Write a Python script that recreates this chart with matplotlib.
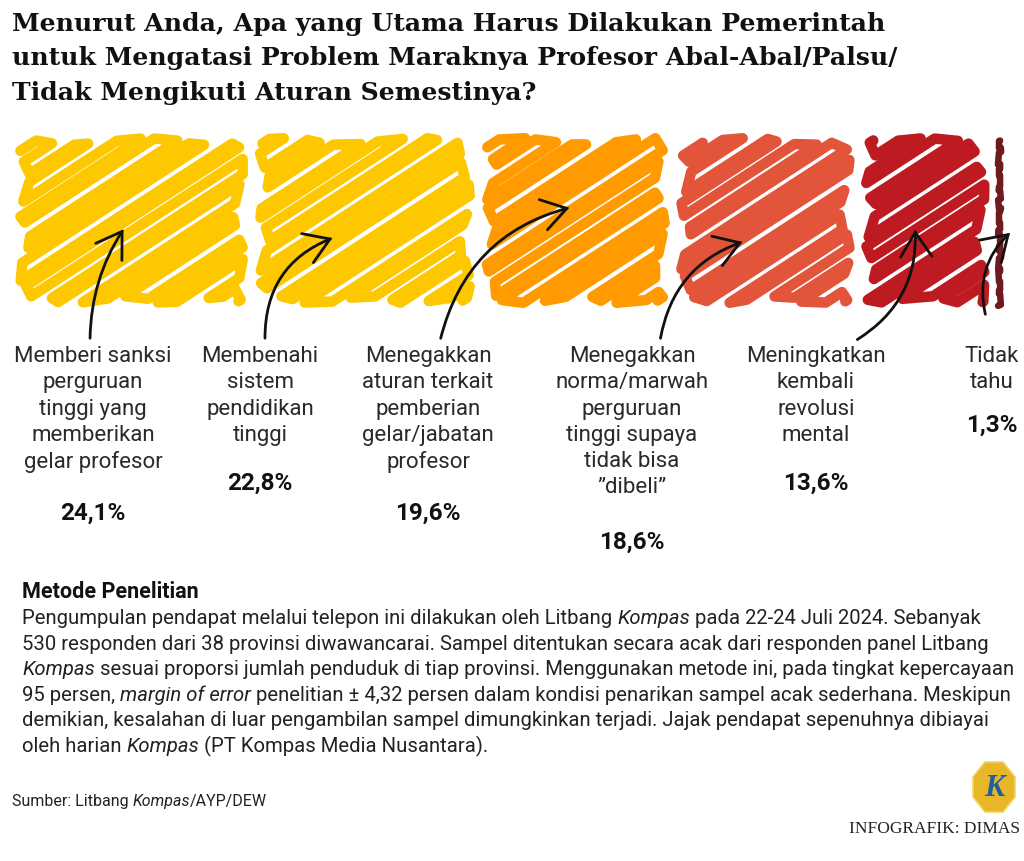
import numpy as np
import matplotlib
matplotlib.use("Agg")
import matplotlib.pyplot as plt
from matplotlib.patches import Polygon, FancyArrowPatch
from matplotlib import font_manager as fm

# ---------------- data ----------------
categories = [
    "Memberi sanksi\nperguruan\ntinggi yang\nmemberikan\ngelar profesor",
    "Membenahi\nsistem\npendidikan\ntinggi",
    "Menegakkan\naturan terkait\npemberian\ngelar/jabatan\nprofesor",
    "Menegakkan\nnorma/marwah\nperguruan\ntinggi supaya\ntidak bisa\n\u201ddibeli\u201d",
    "Meningkatkan\nkembali\nrevolusi\nmental",
    "Tidak\ntahu",
]
values = [24.1, 22.8, 19.6, 18.6, 13.6, 1.3]
value_labels = ["24,1%", "22,8%", "19,6%", "18,6%", "13,6%", "1,3%"]
colors = ["#FDC800", "#FDC800", "#FF9B00", "#E2553A", "#BE1A22", "#6E1A1E"]

title_lines = ["Menurut Anda, Apa yang Utama Harus Dilakukan Pemerintah",
               "untuk Mengatasi Problem Maraknya Profesor Abal-Abal/Palsu/",
               "Tidak Mengikuti Aturan Semestinya?"]

avail = {f.name for f in fm.fontManager.ttflist}
def pick(*names):
    for n in names:
        if n in avail:
            return n
    return "DejaVu Sans"

SANS = pick("Roboto", "DejaVu Sans")
SERIF_T = pick("DejaVu Serif")
SERIF = pick("Liberation Serif", "DejaVu Serif")

W, H = 1024, 862
fig = plt.figure(figsize=(W / 100, H / 100), dpi=100)
fig.patch.set_facecolor("white")
renderer = fig.canvas.get_renderer()

def fx(px):
    return px / W

def fy(py):
    return 1 - py / H

def width_of(s, **props):
    t = fig.text(0, 0, s, **props)
    w = t.get_window_extent(renderer).width
    t.remove()
    return w

# ---------------- title ----------------
tprops = dict(fontweight="bold", family=SERIF_T, color="#111111")
w0 = width_of(title_lines[0], fontsize=20, **tprops)
tsize = 20 * 873 / w0
for i, ln in enumerate(title_lines):
    fig.text(fx(12), fy(31 + i * 34.5), ln, ha="left", va="baseline",
             fontsize=tsize, **tprops)

# ---------------- bar with scribble ----------------
bar_left, bar_right, bar_top, bar_bot = 12, 1006, 133, 310
ax = fig.add_axes([fx(bar_left), fy(bar_bot), fx(bar_right - bar_left),
                   (bar_bot - bar_top) / H])
ax.set_xlim(0, 100)
ax.set_ylim(0, 1)
ax.axis("off")

ppx = (bar_right - bar_left) / 100.0   # pixels per data x
ppy = (bar_bot - bar_top)             # pixels per data y
gap = 0.25
lefts = np.concatenate([[0], np.cumsum(values)[:-1]])

theta = np.deg2rad(33)
dvec = np.array([np.cos(theta), np.sin(theta)])
nvec = np.array([-np.sin(theta), np.cos(theta)])

def clip_line(d, x0, x1, y0, y1, dv, nv):
    base = d * nv
    tmin, tmax = -1e9, 1e9
    for k, (lo, hi) in enumerate([(x0, x1), (y0, y1)]):
        if abs(dv[k]) < 1e-12:
            if not (lo <= base[k] <= hi):
                return None
            continue
        t1 = (lo - base[k]) / dv[k]
        t2 = (hi - base[k]) / dv[k]
        tmin = max(tmin, min(t1, t2))
        tmax = min(tmax, max(t1, t2))
    if tmax <= tmin:
        return None
    return base + tmin * dv, base + tmax * dv

for i, (l, v, c) in enumerate(zip(lefts, values, colors)):
    xs0 = (l + gap) * ppx
    xs1 = (l + v - gap) * ppx
    wpx = xs1 - xs0
    narrow = wpx < 40
    if narrow:
        th = np.deg2rad(20)
        dv = np.array([np.cos(th), np.sin(th)])
        nv = np.array([-np.sin(th), np.cos(th)])
        lw_px, step = 6.5, 7
    else:
        dv, nv = dvec, nvec
        lw_px, step = 10.5, 10.6
    ins = min(lw_px / 2 + 1.5, wpx / 3)
    x0, x1, y0, y1 = xs0 + ins, xs1 - ins, ins, ppy - ins
    corners = np.array([[x0, y0], [x1, y0], [x0, y1], [x1, y1]])
    ds = corners @ nv
    d_vals = np.arange(ds.min() + 3, ds.max() - 3, step)
    pts = []
    for j, d in enumerate(d_vals):
        dj = d + 2.2 * np.sin(j * 2.3 + i * 1.1)
        seg = clip_line(dj, x0, x1, y0, y1, dv, nv)
        if seg is None:
            continue
        a, b = seg
        L = np.linalg.norm(b - a)
        f = 0.3 if narrow else 1.0
        sh_a = (5 + 6 * np.sin(j * 1.3 + i)) * f
        sh_b = (5 + 6 * np.cos(j * 0.9 + 2 * i)) * f
        sh_a = min(sh_a, 0.3 * L)
        sh_b = min(sh_b, 0.3 * L)
        a = a + dv * sh_a
        b = b - dv * sh_b
        if j % 2 == 0:
            pts.extend([a, b])
        else:
            pts.extend([b, a])
    pts = np.array(pts)
    xd = pts[:, 0] / ppx
    yd = pts[:, 1] / ppy
    ax.plot(xd, yd, color=c, lw=lw_px * 0.72, solid_capstyle="round",
            solid_joinstyle="round", clip_on=False)

# ---------------- labels ----------------
label_cx = [93, 260, 428, 632, 816, 992]
label_top = 346
line_h = 29.3
for k, (cat, vl) in enumerate(zip(categories, value_labels)):
    n = cat.count("\n") + 1
    fig.text(fx(label_cx[k]), fy(label_top), cat, ha="center", va="top",
             fontsize=16, family=SANS, color="#2a2a2a", linespacing=1.33)
    fig.text(fx(label_cx[k]), fy(label_top + n * line_h + 9), vl,
             ha="center", va="top", fontsize=17.5, fontweight="bold",
             family=SANS, color="#111111")

# ---------------- arrows ----------------
arrows = [((90, 342), (125, 228), -0.15),
          ((265, 342), (335, 238), -0.35),
          ((440, 342), (572, 208), -0.3),
          ((660, 342), (745, 242), -0.3),
          ((855, 342), (915, 228), 0.3),
          ((986, 318), (1012, 232), -0.3)]
for (sx, sy), (ex, ey), rad in arrows:
    fig.add_artist(FancyArrowPatch(
        (fx(sx), fy(sy)), (fx(ex), fy(ey)), transform=fig.transFigure,
        arrowstyle="->,head_length=7,head_width=4.5",
        connectionstyle=f"arc3,rad={rad}", lw=2.0, color="#111111",
        mutation_scale=2.5, capstyle="round", joinstyle="miter"))

# ---------------- methodology ----------------
def space_w(props):
    return width_of("a a", **props) - width_of("aa", **props)

N, I = "normal", "italic"

def rich_line(xpx, ypx, runs, size):
    x = xpx
    for txt, style in runs:
        props = dict(fontsize=size, family=SANS, color="#222222", style=style)
        sw = space_w(props)
        lead = len(txt) - len(txt.lstrip(" "))
        trail = len(txt) - len(txt.rstrip(" "))
        core = txt.strip(" ")
        x += lead * sw
        if core:
            t = fig.text(fx(x), fy(ypx), core, va="baseline", ha="left", **props)
            x += t.get_window_extent(renderer).width
        x += trail * sw
    return x

def rich_width(runs, size):
    tot = 0
    for txt, style in runs:
        props = dict(fontsize=size, family=SANS, style=style)
        sw = space_w(props)
        lead = len(txt) - len(txt.lstrip(" "))
        trail = len(txt) - len(txt.rstrip(" "))
        core = txt.strip(" ")
        tot += (lead + trail) * sw
        if core:
            tot += width_of(core, **props)
    return tot

fig.text(fx(22), fy(598), "Metode Penelitian", ha="left", va="baseline",
         fontsize=15.5, fontweight="bold", family=SANS, color="#111111")
body = [
    [("Pengumpulan pendapat melalui telepon ini dilakukan oleh Litbang ", N),
     ("Kompas", I), (" pada 22-24 Juli 2024. Sebanyak", N)],
    [("530 responden dari 38 provinsi diwawancarai. Sampel ditentukan secara acak dari responden panel Litbang", N)],
    [("Kompas", I), (" sesuai proporsi jumlah penduduk di tiap provinsi. Menggunakan metode ini, pada tingkat kepercayaan", N)],
    [("95 persen, ", N), ("margin of error", I),
     (" penelitian \u00b1 4,32 persen dalam kondisi penarikan sampel acak sederhana. Meskipun", N)],
    [("demikian, kesalahan di luar pengambilan sampel dimungkinkan terjadi. Jajak pendapat sepenuhnya dibiayai", N)],
    [("oleh harian ", N), ("Kompas", I), (" (PT Kompas Media Nusantara).", N)],
]
bw = rich_width(body[0], 14)
bsize = 14 * 963 / bw
for i, runs in enumerate(body):
    rich_line(22, 624 + i * 25.6, runs, bsize)

rich_line(12, 806, [("Sumber: Litbang ", N), ("Kompas", I), ("/AYP/DEW", N)], 11.5)

# ---------------- logo ----------------
cx, cy = 994, 788
hw, hh = 21, 25
logo = Polygon([(fx(cx - 9), fy(cy - hh)), (fx(cx + 9), fy(cy - hh)),
                (fx(cx + hw), fy(cy - 10)), (fx(cx + hw), fy(cy + 10)),
                (fx(cx + 9), fy(cy + hh)), (fx(cx - 9), fy(cy + hh)),
                (fx(cx - hw), fy(cy + 10)), (fx(cx - hw), fy(cy - 10))],
               closed=True, transform=fig.transFigure, facecolor="#E8B628",
               edgecolor="#F4D467", lw=1.2)
fig.add_artist(logo)
fig.text(fx(cx), fy(cy + 1), "K", ha="center", va="center", fontsize=22,
         family=SERIF, style="italic", fontweight="bold", color="#1F5FA0")
fig.text(fx(1020), fy(833), "INFOGRAFIK: DIMAS", ha="right", va="baseline",
         fontsize=12.5, family=SERIF, color="#222222")

fig.savefig("out.png", dpi=100, facecolor="white")
